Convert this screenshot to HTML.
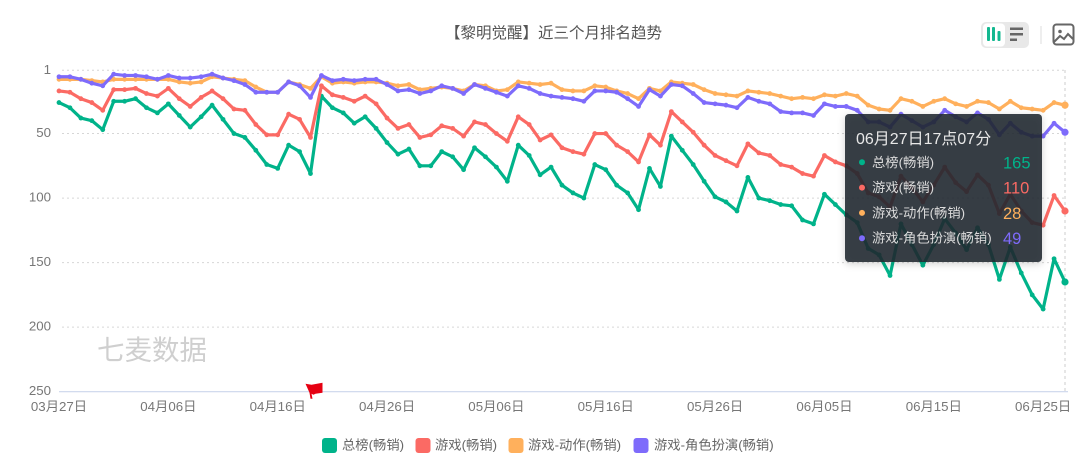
<!DOCTYPE html>
<html lang="zh">
<head>
<meta charset="utf-8">
<title>黎明觉醒 排名趋势</title>
<style>
html,body{margin:0;padding:0;background:#fff;width:1080px;height:460px;overflow:hidden}
svg{display:block;filter:blur(.35px);font-family:"Liberation Sans","Noto Sans CJK SC",sans-serif}
</style>
</head>
<body>
<svg id="chart" width="1080" height="460" viewBox="0 0 1080 460" xmlns="http://www.w3.org/2000/svg">
  <text x="553.500" y="38" font-size="15.500" fill="#555" text-anchor="middle">【黎明觉醒】近三个月排名趋势</text>

  <g>
    <rect x="981" y="22" width="48" height="26" rx="5" fill="#e8e8e8"/>
    <g>
      <rect x="983" y="23.500" width="22" height="23" rx="4" fill="#fff"/>
      <rect x="987" y="27" width="3" height="14" rx="1" fill="#14b890"/>
      <rect x="992" y="27" width="3" height="14" rx="1" fill="#14b890"/>
      <rect x="997.500" y="31" width="3" height="10" rx="1" fill="#14b890"/>
    </g>
    <g>
      <rect x="1010" y="27.500" width="13" height="2.500" fill="#666"/>
      <rect x="1010" y="33" width="13" height="2.500" fill="#666"/>
      <rect x="1010" y="38.500" width="7" height="2.500" fill="#666"/>
    </g>
  </g>
  <rect x="1040.500" y="26" width="1" height="18" fill="#ddd"/>
  <g fill="none" stroke="#666" stroke-width="2">
    <rect x="1053.500" y="24.500" width="20" height="20" rx="3"/>
    <circle cx="1060" cy="31.500" r="1.800" fill="#666" stroke="none"/>
    <polyline points="1054,42 1060,36 1064,39 1068,34 1073,39"/>
  </g>

  <g id="grid"></g>
  <g id="y-labels"></g>
  <g id="x-labels"></g>
  <text x="97" y="359.500" font-size="27.500" fill="#cfcfcf">七麦数据</text>
  <g id="series"></g>
  <g id="flag"></g>

  <g id="tooltip">
    <rect x="845" y="114" width="197" height="148" rx="4" fill="rgba(32,40,48,.88)" style="filter:drop-shadow(0 2px 4px rgba(0,0,0,.2))"/>
    <text id="tooltip-title" x="856" y="144" font-size="16" fill="#e8e8e8">06月27日17点07分</text>
    <g id="tooltip-rows"></g>
  </g>

  <g font-size="13.300" fill="#666">
    <g>
      <rect x="322" y="438" width="15" height="15" rx="3" fill="#00b38a"/>
      <text x="342" y="449.500">总榜(畅销)</text>
    </g>
    <g>
      <rect x="415.500" y="438" width="15" height="15" rx="3" fill="#fb6a64"/>
      <text x="435" y="449.500">游戏(畅销)</text>
    </g>
    <g>
      <rect x="508.500" y="438" width="15" height="15" rx="3" fill="#ffb05c"/>
      <text x="528" y="449.500">游戏-动作(畅销)</text>
    </g>
    <g>
      <rect x="633.500" y="438" width="15" height="15" rx="3" fill="#7e6bfb"/>
      <text x="654" y="449.500">游戏-角色扮演(畅销)</text>
    </g>
  </g>
</svg>

<script>
const categories = [
"03月27日","03月28日","03月29日","03月30日","03月31日",
"04月01日","04月02日","04月03日","04月04日","04月05日","04月06日","04月07日","04月08日","04月09日","04月10日",
"04月11日","04月12日","04月13日","04月14日","04月15日","04月16日","04月17日","04月18日","04月19日","04月20日",
"04月21日","04月22日","04月23日","04月24日","04月25日","04月26日","04月27日","04月28日","04月29日","04月30日",
"05月01日","05月02日","05月03日","05月04日","05月05日","05月06日","05月07日","05月08日","05月09日","05月10日",
"05月11日","05月12日","05月13日","05月14日","05月15日","05月16日","05月17日","05月18日","05月19日","05月20日",
"05月21日","05月22日","05月23日","05月24日","05月25日","05月26日","05月27日","05月28日","05月29日","05月30日","05月31日",
"06月01日","06月02日","06月03日","06月04日","06月05日","06月06日","06月07日","06月08日","06月09日","06月10日",
"06月11日","06月12日","06月13日","06月14日","06月15日","06月16日","06月17日","06月18日","06月19日","06月20日",
"06月21日","06月22日","06月23日","06月24日","06月25日","06月26日","06月27日"];

const overallRank = [26,30,38,40,47,25,25,23,30,34,27,36,45,37,28,39,50,53,63,74,77,59,64,81,21,30,34,42,
37,46,57,66,62,75,75,64,68,78,61,68,76,87,59,67,82,76,90,96,100,74,78,90,96,109,77,91,52,63,74,87,99,
103,110,84,100,102,105,106,117,120,97,105,113,119,139,144,160,120,136,152,136,116,127,140,123,136,163,138,158,175,186,147,165];

const gameRank = [17,18,23,26,32,16,16,15,19,21,15,23,29,22,17,23,31,32,43,51,51,35,39,53,13,20,22,25,
21,27,38,46,43,53,51,44,46,52,41,43,50,56,37,43,55,51,61,64,66,50,50,59,64,72,51,59,33,41,49,59,67,
71,75,58,65,67,74,76,81,83,67,72,75,81,96,99,107,83,92,103,90,76,88,95,82,90,112,97,110,119,121,98,110];

const actionRank = [8,8,8,9,10,8,8,8,8,8,8,10,11,10,6,7,8,9,14,18,18,10,12,15,6,11,10,11,
10,10,11,13,12,16,15,14,15,17,12,13,17,16,10,11,12,11,16,17,17,13,14,17,19,23,15,17,10,11,12,16,19,
20,21,17,18,19,21,23,22,23,20,21,19,21,28,31,32,23,25,29,25,23,27,29,25,26,31,25,30,31,32,26,28];

const rpgRank = [6,6,8,11,13,4,5,5,6,8,5,7,7,6,4,7,9,12,18,18,18,10,13,22,5,9,8,9,
8,8,12,17,16,19,17,13,15,19,12,15,18,21,13,15,19,21,22,23,25,17,17,18,23,29,16,21,12,13,19,26,27,
28,30,22,25,27,33,34,34,36,27,29,29,32,41,41,45,35,40,45,41,32,37,41,34,39,51,42,49,52,52,42,49];

const yTicks = [1,50,100,150,200,250];
const xTickStep = 10;
const flagIndex = 23;

const seriesNames = ["总榜(畅销)","游戏(畅销)","游戏-动作(畅销)","游戏-角色扮演(畅销)"];
const seriesColors = ["#00b38a","#fb6a64","#ffb05c","#7e6bfb"];
const seriesValues = [overallRank, gameRank, actionRank, rpgRank];

const NS = "http://www.w3.org/2000/svg";
function xAt(i){ return 59 + i * (1006 / (categories.length - 1)); }
function yAt(v){ return 70.3 + (v - 1) * (321.4 / 249); }
function make(tag, attrs, parent){
  const el = document.createElementNS(NS, tag);
  for (const k in attrs) el.setAttribute(k, attrs[k]);
  parent.appendChild(el);
  return el;
}

const grid = document.getElementById("grid");
const yLabels = document.getElementById("y-labels");
yTicks.forEach(function(t){
  const yy = yAt(t);
  if (t !== 250) {
    const gl = make("line", {x1:62, x2:1065, y1:yy, y2:yy, stroke:"#d6d6d6", "stroke-width":1, "stroke-dasharray":"2 3"}, grid);
    
    
  }
  const lab = make("text", {x:51, y:yy + 3.500, "font-size":13.300, fill:"#777", "text-anchor":"end"}, yLabels);
  
  
  lab.textContent = t;
});

const axis = make("line", {x1:59, x2:1068, y1:yAt(250), y2:yAt(250), stroke:"#ccd6eb", "stroke-width":1.200}, grid);



const cross = make("line", {x1:xAt(categories.length-1), x2:xAt(categories.length-1), y1:70, y2:391, stroke:"#cccccc", "stroke-width":1, "stroke-dasharray":"3 3"}, grid);



const xLabels = document.getElementById("x-labels");
categories.forEach(function(c, i){
  if (i % xTickStep !== 0) return;
  const lab = make("text", {x:xAt(i), y:411, "font-size":13.300, fill:"#777", "text-anchor":"middle"}, xLabels);
  
  
  lab.textContent = c;
});

const seriesGroup = document.getElementById("series");
seriesValues.forEach(function(vals, s){
  const pts = vals.map(function(v, i){ return xAt(i).toFixed(2) + "," + yAt(v).toFixed(2); }).join(" ");
  const line = make("polyline", {points:pts, fill:"none", stroke:seriesColors[s], "stroke-width":3.200, "stroke-linejoin":"round", "stroke-linecap":"round"}, seriesGroup);
  
  
  vals.forEach(function(v, i){
    const last = i === vals.length - 1;
    const dot = make("circle", {cx:xAt(i), cy:yAt(v), r:last ? 3.600 : 2.400, fill:seriesColors[s]}, seriesGroup);
    
    
  });
});

const flagG = document.getElementById("flag");
const fx = xAt(flagIndex), fy = yAt(250);
const flagShape = make("path", {
  d:"M"+(fx-5)+" "+(fy-8)+" L"+(fx+1)+" "+(fy-7)+" L"+(fx+12)+" "+(fy-9)+" L"+(fx+12)+" "+(fy+1)+
    " L"+(fx+5)+" "+(fy+2)+" L"+(fx+3)+" "+(fy+3)+" L"+(fx+1)+" "+(fy+2)+" L"+(fx+2)+" "+(fy+7)+
    " L"+fx+" "+(fy+7)+" L"+(fx-1)+" "+(fy+1)+" Z",
  fill:"#e60012"}, flagG);



const rows = document.getElementById("tooltip-rows");
seriesNames.forEach(function(n, s){
  const ry = 162.300 + s * 25.300;
  const d = make("circle", {cx:862, cy:ry, r:3, fill:seriesColors[s]}, rows);
  
  
  const t = make("text", {x:872, y:ry + 4.500, "font-size":13.300, fill:"#dcdcdc"}, rows);
  
  
  t.textContent = n;
  const val = make("text", {x:1003, y:ry + 6, "font-size":16.500, fill:seriesColors[s]}, rows);
  
  
  val.textContent = seriesValues[s][seriesValues[s].length - 1];
});
</script>
</body>
</html>
